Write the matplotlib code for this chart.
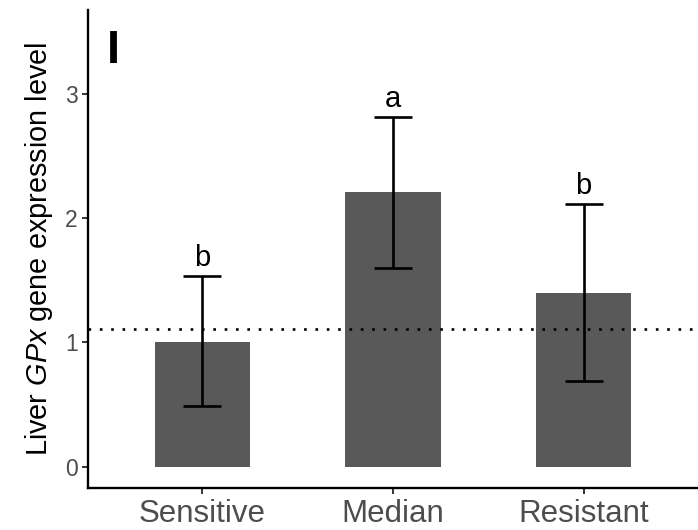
import matplotlib
matplotlib.use("Agg")
import matplotlib.pyplot as plt

plt.rcParams['font.family'] = ['Liberation Sans', 'DejaVu Sans']
plt.rcParams['mathtext.fontset'] = 'custom'
plt.rcParams['mathtext.it'] = 'Liberation Sans:italic'
plt.rcParams['mathtext.rm'] = 'Liberation Sans'

groups = ["Sensitive", "Median", "Resistant"]
means = [1.00, 2.21, 1.40]
lower = [0.49, 1.60, 0.69]
upper = [1.53, 2.81, 2.11]
letters = ["b", "a", "b"]
ref_level = 1.11
panel = "I"

fig = plt.figure(figsize=(6.98, 5.30), dpi=100)
ax = fig.add_axes([88 / 698, 1 - 488.3 / 530, 1 - 88 / 698, (488.3 - 10) / 530])

x = [1, 2, 3]
ax.bar(x, means, width=0.5, color="#595959", zorder=1)

err_lo = [m - l for m, l in zip(means, lower)]
err_hi = [u - m for m, u in zip(means, upper)]
ax.errorbar(x, means, yerr=[err_lo, err_hi], fmt="none", ecolor="black",
            elinewidth=1.9, capsize=13.7, capthick=1.9, zorder=3)

ax.axhline(ref_level, color="black", lw=1.9, ls=(0, (1, 3.3)), zorder=2)

for xi, u, t in zip(x, upper, letters):
    ax.text(xi, u + 0.085, t, ha="center", va="baseline", fontsize=21, color="black")

ax.text(0.535, 3.25, panel, ha="center", va="baseline", fontsize=34,
        fontweight="bold", color="black")

ax.set_xlim(0.4, 3.6)
ax.set_ylim(-0.174, 3.674)
ax.set_xticks(x)
ax.set_xticklabels(groups)
ax.set_yticks([0, 1, 2, 3])

for side in ["top", "right"]:
    ax.spines[side].set_visible(False)
for side in ["left", "bottom"]:
    ax.spines[side].set_linewidth(1.7)
    ax.spines[side].set_color("black")

ax.tick_params(axis="both", length=4.5, width=1.4, color="#333333")
ax.tick_params(axis="y", labelsize=16.5, labelcolor="#4D4D4D", pad=3)
ax.tick_params(axis="x", labelsize=22.5, labelcolor="#4D4D4D", pad=3.5)

ax.set_ylabel("Liver $\\mathit{GPx}$ gene expression level", fontsize=20.8,
              color="black", labelpad=7)

fig.savefig("out.png", dpi=100)
